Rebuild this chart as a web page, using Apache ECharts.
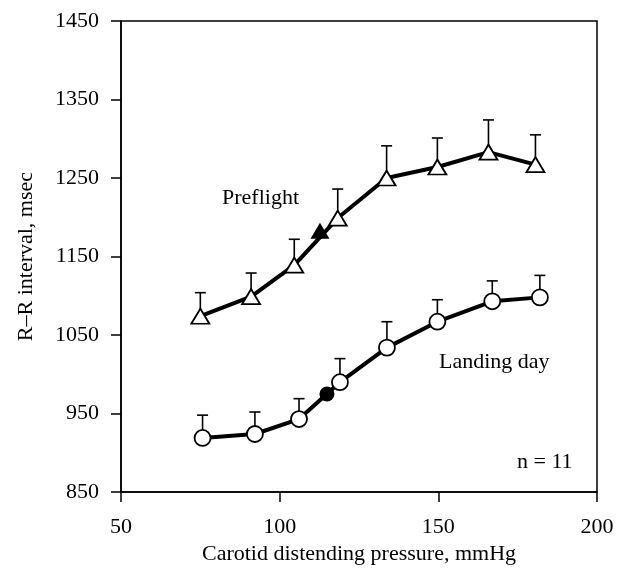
<!DOCTYPE html>
<html>
<head>
<meta charset="utf-8">
<script src="https://cdn.jsdelivr.net/npm/echarts@6/dist/echarts.min.js"></script>
<style>html,body{margin:0;padding:0;background:#fff}#c{width:618px;height:570px}</style>
</head>
<body>
<div id="c"></div>
<script>
const preflightX = [75, 91, 104.6, 118.3, 133.7, 149.7, 165.8, 180.6];
const preflightY = [1074, 1099, 1139, 1199, 1250, 1264, 1283, 1267];
const preflightErr = [30, 30, 33, 37, 41, 37, 41, 38];
const preflightOP = [112.7, 1183];
const landingX = [75.7, 92.2, 106.1, 119, 133.8, 149.7, 167, 182];
const landingY = [919, 924, 943, 990, 1034, 1067, 1093, 1098];
const landingErr = [29, 28, 26, 30, 33, 28, 26, 28];
const landingOP = [114.9, 975];
const yTicks = [850, 950, 1050, 1150, 1250, 1350, 1450];
const xTicks = [50, 100, 150, 200];

const FONT = 'Liberation Serif';
const FS = 22;

const pts = (xs, ys) => xs.map((x, i) => [x, ys[i]]);
const errData = (xs, ys, es) => xs.map((x, i) => [x, ys[i], ys[i] + es[i]]);

function errRender(params, api) {
  const p0 = api.coord([api.value(0), api.value(1)]);
  const p1 = api.coord([api.value(0), api.value(2)]);
  const hw = 5.5;
  const st = { stroke: '#000', lineWidth: 1.6 };
  return {
    type: 'group',
    children: [
      { type: 'line', shape: { x1: p0[0], y1: p0[1], x2: p1[0], y2: p1[1] }, style: st },
      { type: 'line', shape: { x1: p1[0] - hw, y1: p1[1], x2: p1[0] + hw, y2: p1[1] }, style: st }
    ]
  };
}

const chart = echarts.init(document.getElementById('c'));
chart.setOption({
  animation: false,
  backgroundColor: '#fff',
  textStyle: { fontFamily: FONT },
  grid: { left: 121, right: 21, top: 21, bottom: 74, show: true, borderColor: '#000', borderWidth: 1.5, backgroundColor: 'transparent' },
  xAxis: {
    type: 'value', min: xTicks[0], max: xTicks[xTicks.length - 1], interval: 50,
    name: 'Carotid distending pressure, mmHg', nameLocation: 'middle', nameGap: 49,
    nameTextStyle: { fontFamily: FONT, fontSize: FS, color: '#000' },
    axisLine: { show: true, onZero: false, lineStyle: { color: '#000', width: 1.5 } },
    axisTick: { show: true, inside: false, length: 10, lineStyle: { color: '#000', width: 1.5 } },
    axisLabel: { fontFamily: FONT, fontSize: FS, color: '#000', margin: 24, formatter: v => String(v) },
    splitLine: { show: false }
  },
  yAxis: {
    type: 'value', min: yTicks[0], max: yTicks[yTicks.length - 1], interval: 100,
    name: 'R–R interval, msec', nameLocation: 'middle', nameGap: 84, nameRotate: 90,
    nameTextStyle: { fontFamily: FONT, fontSize: FS, color: '#000' },
    axisLine: { show: true, onZero: false, lineStyle: { color: '#000', width: 1.5 } },
    axisTick: { show: true, inside: false, length: 10, lineStyle: { color: '#000', width: 1.5 } },
    axisLabel: { fontFamily: FONT, fontSize: FS, color: '#000', margin: 22, formatter: v => String(v) },
    splitLine: { show: false }
  },
  series: [
    { type: 'custom', renderItem: errRender, data: errData(preflightX, preflightY, preflightErr), z: 1, silent: true },
    { type: 'custom', renderItem: errRender, data: errData(landingX, landingY, landingErr), z: 1, silent: true },
    {
      type: 'line', data: pts(preflightX, preflightY), z: 3,
      lineStyle: { color: '#000', width: 4 },
      symbol: 'triangle', symbolSize: [18, 15], showAllSymbol: true,
      itemStyle: { color: '#fff', borderColor: '#000', borderWidth: 1.8 }
    },
    {
      type: 'line', data: pts(landingX, landingY), z: 3,
      lineStyle: { color: '#000', width: 4 },
      symbol: 'circle', symbolSize: 16, showAllSymbol: true,
      itemStyle: { color: '#fff', borderColor: '#000', borderWidth: 1.8 }
    },
    {
      type: 'scatter', data: [preflightOP], z: 4,
      symbol: 'triangle', symbolSize: [19, 16], itemStyle: { color: '#000', opacity: 1 }
    },
    {
      type: 'scatter', data: [landingOP], z: 4,
      symbol: 'circle', symbolSize: 15, itemStyle: { color: '#000', opacity: 1 }
    }
  ],
  graphic: [
    { type: 'text', left: 222, top: 187, style: { text: 'Preflight', fontFamily: FONT, fontSize: FS, fill: '#000' } },
    { type: 'text', left: 439, top: 351, style: { text: 'Landing day', fontFamily: FONT, fontSize: FS, fill: '#000' } },
    { type: 'text', left: 517, top: 451, style: { text: 'n = 11', fontFamily: FONT, fontSize: FS, fill: '#000' } }
  ]
});
</script>
</body>
</html>
